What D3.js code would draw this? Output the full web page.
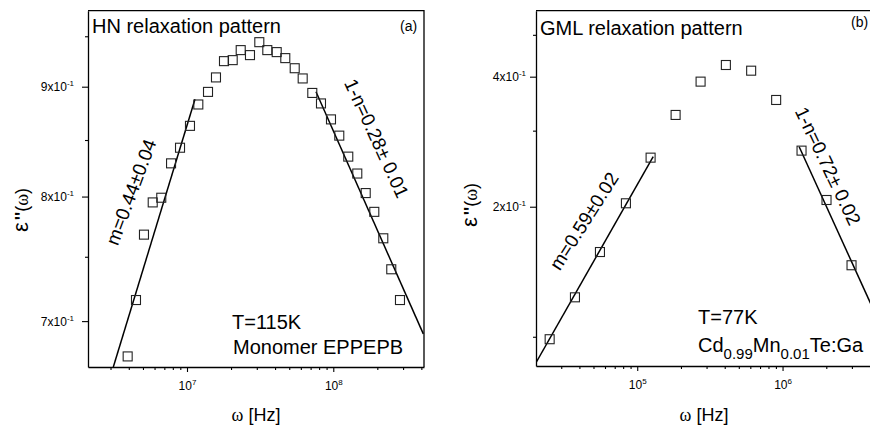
<!DOCTYPE html>
<html>
<head>
<meta charset="utf-8">
<script src="https://cdn.jsdelivr.net/npm/d3@7"></script>
<style>
  body { margin: 0; background: #fff; }
  text { font-family: "Liberation Sans", Arial, sans-serif; fill: #000; }
</style>
</head>
<body>
<div id="chart"></div>
<script>
// (a) HN relaxation, monomer EPPEPB, T=115K
var hnFreq = [3.93e6, 4.48e6, 5.08e6, 5.83e6, 6.67e6, 7.78e6, 8.96e6, 1.048e7, 1.195e7, 1.392e7,
  1.578e7, 1.79e7, 2.053e7, 2.329e7, 2.695e7, 3.121e7, 3.54e7, 4.104e7, 4.698e7, 5.449e7,
  6.178e7, 7.186e7, 8.24e7, 9.645e7, 1.099e8, 1.266e8, 1.459e8, 1.666e8, 1.907e8, 2.197e8,
  2.491e8, 2.857e8];
var hnEps = [0.674, 0.716, 0.768, 0.795, 0.799, 0.829, 0.843, 0.863, 0.883, 0.895,
  0.909, 0.925, 0.926, 0.936, 0.931, 0.944, 0.936, 0.934, 0.928, 0.918,
  0.908, 0.894, 0.884, 0.869, 0.854, 0.835, 0.820, 0.803, 0.787, 0.765,
  0.740, 0.716];
var hnFitLow = [[3.135e6, 0.6664], [1.134e7, 0.888]];
var hnFitHigh = [[7.617e7, 0.8952], [4.124e8, 0.6905]];
var hnXTicks = [1e7, 1e8];
var hnYTicks = [0.7, 0.8, 0.9];
var hnYMinor = [0.75, 0.85, 0.95];

// (b) GML relaxation, Cd0.99Mn0.01Te:Ga, T=77K
var gmlFreq = [2.497e4, 3.728e4, 5.54e4, 8.36e4, 1.236e5, 1.837e5, 2.729e5, 4.074e5, 6.081e5,
  9.036e5, 1.351e6, 2.007e6, 2.983e6];
var gmlEps = [0.0987, 0.1234, 0.1571, 0.2037, 0.2598, 0.3262, 0.3896, 0.4257, 0.413,
  0.3533, 0.2697, 0.2073, 0.1464];
var gmlFitLow = [[2.011e4, 0.0871], [1.288e5, 0.2612]];
var gmlFitHigh = [[1.301e6, 0.2754], [4.126e6, 0.1175]];
var gmlXTicks = [1e5, 1e6];
var gmlYTicks = [0.2, 0.4];
var gmlYMinor = [0.1, 0.3, 0.5];

var svg = d3.select('#chart').append('svg')
  .attr('width', 870)
  .attr('height', 425);

function sup(sel, base, exp) {
  sel.text(null);
  sel.append('tspan').text(base);
  sel.append('tspan').attr('font-size', 8).attr('dy', -5).text(exp);
}

function drawPanel(p) {
  var g = svg.append('g');
  var x = d3.scaleLog().domain(p.xDom).range([p.x0, p.x1]);
  var y = d3.scaleLog().domain(p.yDom).range([p.y1, p.y0]);

  g.append('clipPath').attr('id', p.id + '-clip')
    .append('rect')
    .attr('x', p.x0).attr('y', p.y0)
    .attr('width', p.x1 - p.x0).attr('height', p.y1 - p.y0);

  // frame top + right
  g.append('path')
    .attr('d', 'M' + p.x0 + ',' + p.y0 + 'H' + p.x1 + 'V' + p.y1)
    .attr('fill', 'none').attr('stroke', '#000').attr('stroke-width', 1.3);

  // x axis: labelled decades, then the unlabelled minors
  var xMinor = x.ticks().filter(function (d) { return p.xTicks.indexOf(d) < 0; });
  var gx = g.append('g').attr('transform', 'translate(0,' + p.y1 + ')')
    .call(d3.axisBottom(x).tickValues(p.xTicks).tickSize(5).tickSizeOuter(0));
  gx.selectAll('.tick text')
    .attr('y', 23).attr('dy', 0).attr('font-size', 12)
    .each(function (d) { sup(d3.select(this), '10', Math.round(Math.log10(d))); });
  g.append('g').attr('transform', 'translate(0,' + p.y1 + ')')
    .call(d3.axisBottom(x).tickValues(xMinor).tickSize(3).tickFormat(''))
    .select('.domain').remove();

  // y axis
  var gy = g.append('g').attr('transform', 'translate(' + p.x0 + ',0)')
    .call(d3.axisLeft(y).tickValues(p.yTicks).tickSize(6).tickSizeOuter(0));
  gy.selectAll('.tick text')
    .attr('x', -p.labelGap).attr('dy', 0).attr('y', 4).attr('font-size', 12)
    .each(function (d) {
      var e = Math.floor(Math.log10(d) + 1e-9);
      sup(d3.select(this), Math.round(d / Math.pow(10, e)) + 'x10', e);
    });
  g.append('g').attr('transform', 'translate(' + p.x0 + ',0)')
    .call(d3.axisLeft(y).tickValues(p.yMinor).tickSize(3).tickFormat(''))
    .select('.domain').remove();

  g.selectAll('.domain').attr('stroke-width', 1.3);
  g.selectAll('.tick line').attr('stroke-width', 1.1);

  // fit lines
  var line = d3.line().x(function (d) { return x(d[0]); }).y(function (d) { return y(d[1]); });
  g.append('g').attr('clip-path', 'url(#' + p.id + '-clip)')
    .selectAll('path.fit')
    .data([p.fitLow, p.fitHigh])
    .enter().append('path')
    .attr('class', 'fit')
    .attr('d', line)
    .attr('fill', 'none').attr('stroke', '#000').attr('stroke-width', 1.5);

  // data squares
  g.selectAll('rect.pt')
    .data(p.freq.map(function (f, i) { return [f, p.eps[i]]; }))
    .enter().append('rect')
    .attr('class', 'pt')
    .attr('x', function (d) { return x(d[0]) - 4.5; })
    .attr('y', function (d) { return y(d[1]) - 4.5; })
    .attr('width', 9).attr('height', 9)
    .attr('fill', 'none').attr('stroke', '#222').attr('stroke-width', 1.1);

  // texts
  g.append('text').attr('x', p.x0 + 4).attr('y', p.titleY).attr('font-size', 20).text(p.title);
  g.append('text').attr('x', p.tagX).attr('y', p.tagY).attr('font-size', 14).text(p.tag);

  g.selectAll('text.slope')
    .data(p.slopes)
    .enter().append('text')
    .attr('class', 'slope')
    .attr('transform', function (d) { return 'translate(' + d.cx + ',' + d.cy + ') rotate(' + d.a + ')'; })
    .attr('text-anchor', 'middle').attr('dy', '0.35em').attr('font-size', 19)
    .text(function (d) { return d.t; });

  var xl = g.append('text')
    .attr('x', (p.x0 + p.x1) / 2).attr('y', 421)
    .attr('text-anchor', 'middle').attr('font-size', 18);
  xl.append('tspan').attr('font-family', '"Liberation Serif", serif').text('ω');
  xl.append('tspan').text(' [Hz]');

  var yl = g.append('text')
    .attr('transform', 'translate(' + p.yLabX + ',' + p.yLabY + ') rotate(-90)')
    .attr('text-anchor', 'middle').attr('font-size', 18);
  yl.append('tspan').attr('font-size', 22).text('ε');
  yl.append('tspan').attr('dx', 2).attr('font-weight', 'bold').text("''");
  yl.append('tspan').text('(');
  yl.append('tspan').attr('font-family', '"Liberation Serif", serif').text('ω');
  yl.append('tspan').text(')');

  return g;
}

var ga = drawPanel({
  id: 'a', x0: 88, x1: 424, y0: 10.7, y1: 367,
  xDom: [2.105e6, 4.17e8], yDom: [0.6664, 0.9764],
  xTicks: hnXTicks, yTicks: hnYTicks, yMinor: hnYMinor, labelGap: 14,
  freq: hnFreq, eps: hnEps, fitLow: hnFitLow, fitHigh: hnFitHigh,
  title: 'HN relaxation pattern', titleY: 33, tag: '(a)', tagX: 400, tagY: 31,
  yLabX: 28, yLabY: 210,
  slopes: [
    { t: 'm=0.44±0.04', cx: 131, cy: 192, a: -69.4 },
    { t: '1-n=0.28± 0.01', cx: 376.7, cy: 138.3, a: 65.3 }
  ]
});
ga.append('text').attr('x', 232).attr('y', 328.7).attr('font-size', 20).text('T=115K');
ga.append('text').attr('x', 233).attr('y', 353.7).attr('font-size', 20).text('Monomer EPPEPB');

var gb = drawPanel({
  id: 'b', x0: 536, x1: 872, y0: 10.7, y1: 366,
  xDom: [2.011e4, 4.126e6], yDom: [0.08557, 0.5686],
  xTicks: gmlXTicks, yTicks: gmlYTicks, yMinor: gmlYMinor, labelGap: 10,
  freq: gmlFreq, eps: gmlEps, fitLow: gmlFitLow, fitHigh: gmlFitHigh,
  title: 'GML relaxation pattern', titleY: 35, tag: '(b)', tagX: 851, tagY: 27,
  yLabX: 477, yLabY: 205,
  slopes: [
    { t: 'm=0.59±0.02', cx: 584, cy: 221, a: -57.5 },
    { t: '1-n=0.72± 0.02', cx: 828, cy: 166, a: 64.5 }
  ]
});
gb.append('text').attr('x', 698).attr('y', 323.7).attr('font-size', 20).text('T=77K');
var cd = gb.append('text').attr('x', 698).attr('y', 352).attr('font-size', 20);
cd.append('tspan').text('Cd');
cd.append('tspan').attr('font-size', 15).attr('dy', 7).text('0.99');
cd.append('tspan').attr('dy', -7).text('Mn');
cd.append('tspan').attr('font-size', 15).attr('dy', 7).text('0.01');
cd.append('tspan').attr('dy', -7).text('Te:Ga');
</script>
</body>
</html>
